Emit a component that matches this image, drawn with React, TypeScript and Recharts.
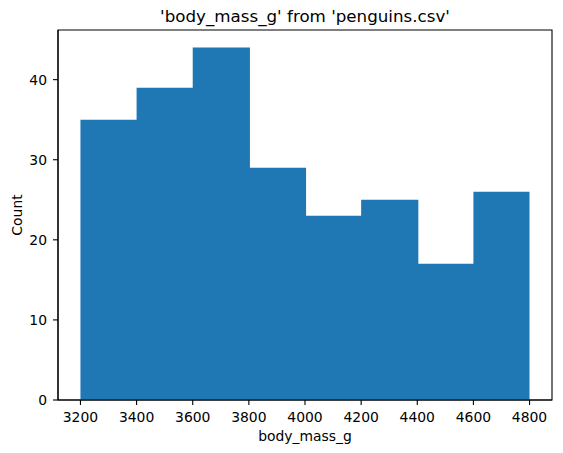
import { BarChart, Bar, XAxis, YAxis, ReferenceArea, Rectangle } from "recharts";

const binStarts = [3200, 3400, 3600, 3800, 4000, 4200, 4400, 4600];
const counts = [35, 39, 44, 29, 23, 25, 17, 26];
const binWidth = 200;
const xTicks = [3200, 3400, 3600, 3800, 4000, 4200, 4400, 4600, 4800];
const yTicks = [0, 10, 20, 30, 40];

const data = binStarts.map((start, i) => ({
  mid: start + binWidth / 2,
  count: counts[i],
}));

const font = "'DejaVu Sans', sans-serif";
const xDomain: [number, number] = [3120, 4880];
const yDomain: [number, number] = [0, 46.2];

// recharts truncates bar width to whole pixels; overlap the next bin so no seams show
const HistBar = (props: any) => {
  const last = props.index === data.length - 1;
  return (
    <Rectangle
      x={props.x}
      y={props.y}
      width={props.width + (last ? 0.1 : 1.2)}
      height={props.height}
      fill="#1f77b4"
    />
  );
};

export default function App() {
  return (
    <div style={{ position: "absolute", left: 0, top: 0, width: 563, height: 453, background: "#fff" }}>
      <BarChart
        width={563}
        height={453}
        data={data}
        margin={{ top: 30, right: 11, bottom: 0, left: 0 }}
        barCategoryGap={0}
        barGap={0}
      >
        <XAxis
          dataKey="mid"
          type="number"
          domain={xDomain}
          ticks={xTicks}
          interval={0}
          height={53}
          tickSize={5}
          tickMargin={7}
          tick={{ fill: "#000", fontSize: 13.9, fontFamily: font }}
          tickLine={{ stroke: "#000", strokeWidth: 1.1 }}
          axisLine={{ stroke: "#000", strokeWidth: 1.1 }}
          label={{
            value: "body_mass_g",
            position: "insideBottom",
            offset: 12,
            fill: "#000",
            fontSize: 13.9,
            fontFamily: font,
          }}
        />
        <YAxis
          type="number"
          domain={yDomain}
          ticks={yTicks}
          width={58}
          tickSize={5}
          tickMargin={6}
          tick={{ fill: "#000", fontSize: 13.9, fontFamily: font }}
          tickLine={{ stroke: "#000", strokeWidth: 1.1 }}
          axisLine={{ stroke: "#000", strokeWidth: 1.1 }}
          label={{
            value: "Count",
            angle: -90,
            position: "insideLeft",
            offset: 17,
            fill: "#000",
            fontSize: 13.9,
            fontFamily: font,
            style: { textAnchor: "middle" },
          }}
        />
        <Bar dataKey="count" fill="#1f77b4" shape={HistBar} isAnimationActive={false} />
        <ReferenceArea
          x1={xDomain[0]}
          x2={xDomain[1]}
          y1={yDomain[0]}
          y2={yDomain[1]}
          fill="none"
          fillOpacity={0}
          stroke="#000"
          strokeWidth={1.1}
          ifOverflow="visible"
        />
      </BarChart>
      <svg width={563} height={30} style={{ position: "absolute", left: 0, top: 0 }}>
        <text x={305} y={22} textAnchor="middle" fontSize={16.7} fontFamily={font} fill="#000">
          'body_mass_g' from 'penguins.csv'
        </text>
      </svg>
    </div>
  );
}
